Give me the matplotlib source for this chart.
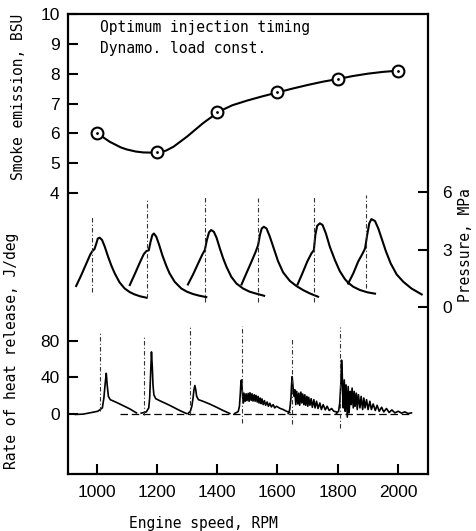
import numpy as np
import matplotlib
matplotlib.use("Agg")
import matplotlib.pyplot as plt

# smoke emission vs engine speed
speed = [1000, 1200, 1400, 1600, 1800, 2000]
smoke = [6.02, 5.36, 6.73, 7.37, 7.82, 8.10]
smoke_curve_x = [1000, 1043, 1080, 1100, 1130, 1155, 1200, 1230, 1255, 1300, 1353,
                 1406, 1450, 1500, 1550, 1600, 1650, 1700, 1750, 1800, 1850, 1900, 1950, 2000]
smoke_curve_y = [6.02, 5.72, 5.53, 5.46, 5.39, 5.36, 5.35, 5.42, 5.55, 5.89, 6.34,
                 6.73, 6.94, 7.10, 7.24, 7.37, 7.50, 7.62, 7.73, 7.82, 7.92, 8.00, 8.06, 8.10]

# cylinder pressure traces (MPa), placed along the speed axis
pressure_x = [
    [932, 949, 966, 979, 986, 993, 999, 1004, 1010, 1018, 1027, 1038, 1049, 1060, 1076, 1093, 1110, 1126, 1145, 1165],
    [1110, 1126, 1143, 1156, 1165, 1173, 1179, 1185, 1190, 1198, 1207, 1218, 1231, 1242, 1259, 1281, 1300, 1320, 1342, 1364],
    [1303, 1320, 1337, 1351, 1359, 1366, 1373, 1380, 1389, 1398, 1409, 1420, 1431, 1447, 1464, 1486, 1508, 1530, 1556],
    [1481, 1497, 1514, 1528, 1536, 1542, 1548, 1555, 1564, 1575, 1588, 1602, 1619, 1641, 1663, 1685, 1708, 1735],
    [1667, 1683, 1699, 1713, 1721, 1726, 1732, 1741, 1750, 1761, 1774, 1791, 1807, 1824, 1835, 1852, 1874, 1899, 1924],
    [1835, 1852, 1868, 1883, 1891, 1898, 1905, 1912, 1924, 1935, 1946, 1960, 1976, 1996, 2018, 2045, 2079],
]
pressure_y = [
    [1.10, 1.67, 2.28, 2.75, 2.92, 3.03, 3.32, 3.58, 3.62, 3.50, 3.15, 2.63, 2.16, 1.76, 1.29, 0.97, 0.78, 0.66, 0.56, 0.49],
    [1.15, 1.70, 2.31, 2.75, 2.92, 2.96, 3.41, 3.76, 3.84, 3.67, 3.27, 2.71, 2.16, 1.76, 1.32, 0.97, 0.80, 0.68, 0.59, 0.52],
    [1.18, 1.70, 2.28, 2.75, 2.97, 3.50, 3.90, 4.02, 3.93, 3.62, 3.06, 2.54, 2.10, 1.58, 1.23, 0.97, 0.80, 0.70, 0.59],
    [1.18, 1.76, 2.37, 2.89, 3.23, 3.76, 4.10, 4.19, 4.10, 3.67, 3.06, 2.40, 1.81, 1.37, 1.10, 0.89, 0.71, 0.54],
    [1.18, 1.76, 2.37, 2.80, 2.97, 3.76, 4.24, 4.37, 4.28, 3.84, 3.15, 2.45, 1.88, 1.46, 1.27, 1.06, 0.89, 0.77, 0.70],
    [1.23, 1.76, 2.37, 2.80, 3.06, 3.76, 4.37, 4.59, 4.49, 4.10, 3.58, 2.92, 2.28, 1.70, 1.32, 0.97, 0.66],
]
tdc_p_x = [985, 1167, 1359, 1536, 1721, 1894]
tdc_p_top = [4.71, 5.67, 5.76, 5.67, 5.76, 5.84]
tdc_p_bot = [0.80, 0.45, 0.28, 0.28, 0.28, 0.97]

# rate of heat release traces (J/deg)
heat_x = [
    [930, 955, 977, 1004, 1019, 1024, 1029, 1032, 1035, 1039, 1045, 1065, 1088, 1110, 1132],
    [1148, 1165, 1173, 1176, 1179, 1182, 1185, 1187, 1190, 1196, 1209, 1226, 1242, 1259, 1276, 1298],
    [1303, 1311, 1316, 1320, 1323, 1326, 1329, 1332, 1338, 1353, 1375, 1398, 1420, 1442],
    [1458, 1470, 1474, 1477, 1479, 1481, 1483, 1485, 1487, 1489, 1493, 1496, 1499, 1503, 1506, 1509, 1513,
     1516, 1519, 1523, 1526, 1529, 1533, 1536, 1539, 1543, 1546, 1549, 1553, 1557, 1561, 1566, 1570, 1575,
     1580, 1586, 1591, 1597, 1608, 1619, 1630, 1641],
    [1636, 1641, 1645, 1647, 1649, 1651, 1653, 1656, 1658, 1661, 1664, 1668, 1671, 1674, 1678, 1681, 1684,
     1688, 1691, 1694, 1698, 1701, 1704, 1708, 1712, 1716, 1721, 1725, 1730, 1735, 1741, 1746, 1752, 1759,
     1765, 1772, 1780, 1787, 1796],
    [1796, 1803, 1807, 1811, 1813, 1815, 1817, 1819, 1822, 1825, 1828, 1832, 1835, 1838, 1842, 1845, 1848,
     1852, 1855, 1858, 1862, 1865, 1869, 1874, 1878, 1883, 1887, 1891, 1896, 1901, 1907, 1912, 1918, 1925,
     1931, 1938, 1946, 1953, 1962, 1971, 1980, 1990, 2001, 2012, 2023, 2034, 2045],
]
heat_y = [
    [-1.0, -0.7, 0.7, 2.5, 6.2, 17.1, 35.3, 44.4, 31.6, 18.9, 15.3, 12.4, 8.7, 5.1, 0.7],
    [0.4, 1.8, 6.2, 17.1, 42.5, 68.0, 49.8, 31.6, 20.7, 16.4, 14.2, 11.6, 9.1, 6.2, 3.3, 0.0],
    [0.0, 2.5, 8.0, 17.1, 26.2, 30.9, 26.2, 18.9, 15.3, 13.5, 10.5, 6.9, 3.3, 0.0],
    [0.0, 2.2, 8.0, 22.5, 35.3, 37.1, 28.0, 17.1, 11.6, 22.5, 13.5, 21.8, 14.2, 22.2, 13.5, 22.9, 14.5,
     21.8, 13.8, 20.7, 13.5, 20.0, 12.7, 18.9, 11.6, 17.1, 10.9, 16.0, 9.8, 14.2, 9.1, 12.7, 8.0, 11.3,
     7.3, 9.8, 6.2, 8.0, 5.8, 4.4, 2.5, 1.1],
    [0.0, 4.4, 17.1, 31.6, 40.7, 33.5, 24.4, 18.9, 26.2, 9.8, 24.4, 10.5, 22.5, 9.1, 23.6, 11.6, 21.5,
     9.8, 20.7, 9.1, 18.9, 8.0, 17.8, 9.1, 16.4, 6.9, 15.3, 6.2, 13.5, 5.5, 11.6, 4.4, 9.8, 4.0,
     8.0, 3.3, 5.5, 2.5, 1.8],
    [0.0, 2.5, 11.6, 35.3, 58.9, 46.2, 20.7, 6.2, 37.1, 2.5, 31.6, -4.0, 29.8, 0.7, 24.4, 9.8, 28.0,
     6.2, 24.4, 8.0, 22.5, 4.4, 20.7, 6.2, 18.9, 4.4, 17.1, 6.2, 15.3, 4.4, 13.5, 4.4, 10.5, 3.3,
     9.1, 2.5, 6.9, 1.8, 5.5, 1.1, 4.0, 0.7, 2.5, 0.4, 1.8, 0.0, 0.7],
]
tdc_h_x = [1010, 1156, 1311, 1481, 1647, 1809]
tdc_h_top = [91.6, 84.4, 95.3, 96.4, 82.5, 95.3]
tdc_h_bot = [2.5, -1.1, -1.1, -10.2, -12.0, -15.6]

speed_ticks = [1000, 1200, 1400, 1600, 1800, 2000]
smoke_ticks = [4, 5, 6, 7, 8, 9, 10]
pressure_ticks = [0, 3, 6]
heat_ticks = [0, 40, 80]

mono = "DejaVu Sans Mono"
num_font = "Liberation Sans"

fig = plt.figure(figsize=(4.76, 5.31), dpi=100)
ax = fig.add_axes([0.1429, 0.1073, 0.7563, 0.8663])
ax_p = ax.twinx()
ax_h = ax.twinx()

# smoke
ax.plot(smoke_curve_x, smoke_curve_y, color="black", lw=1.5)
ax.plot(speed, smoke, "o", ms=8.5, mfc="white", mec="black", mew=1.5)
ax.plot(speed, smoke, ".", ms=2, color="black")
ax.set_xlim(905, 2100)
ax.set_ylim(-5.42, 10)
ax.set_xticks(speed_ticks)
ax.set_yticks(smoke_ticks)

# pressure
for xs, ys in zip(pressure_x, pressure_y):
    ax_p.plot(xs, ys, color="black", lw=1.5)
ax_p.vlines(tdc_p_x, tdc_p_bot, tdc_p_top, colors="#333333", lw=0.8, linestyles=(0, (4, 2, 1, 2)))
ax_p.set_ylim(-8.71, 15.29)
ax_p.set_yticks(pressure_ticks)

# heat release
for xs, ys in zip(heat_x, heat_y):
    ax_h.plot(xs, ys, color="black", lw=1.2)
ax_h.hlines(-0.6, 1076, 2045, colors="black", lw=0.9, linestyles=(0, (6, 3)))
ax_h.vlines(tdc_h_x, tdc_h_bot, tdc_h_top, colors="#333333", lw=0.8, linestyles=(0, (4, 2, 1, 2)))
ax_h.set_ylim(-66.8, 441)
ax_h.set_yticks(heat_ticks)
ax_h.yaxis.tick_left()

for a in (ax, ax_p, ax_h):
    a.tick_params(direction="in", length=7, width=1.5)
    for lab in a.get_xticklabels() + a.get_yticklabels():
        lab.set_fontfamily(num_font)
        lab.set_fontsize(12.5)
for s in ax.spines.values():
    s.set_linewidth(1.6)
for a in (ax_p, ax_h):
    for s in a.spines.values():
        s.set_visible(False)
ax.tick_params(axis="x", pad=8)
ax.tick_params(axis="y", pad=6)
ax_h.tick_params(axis="y", pad=6)
ax_p.tick_params(axis="y", pad=10)

ax.text(1010, 9.54, "Optimum injection timing", family=mono, fontsize=10.5, va="center")
ax.text(1010, 8.83, "Dynamo. load const.", family=mono, fontsize=10.5, va="center")

fig.text(0.038, 0.817, "Smoke emission, BSU", family=mono, fontsize=10.5,
         rotation=90, ha="center", va="center")
fig.text(0.025, 0.339, "Rate of heat release, J/deg", family=mono, fontsize=10.5,
         rotation=90, ha="center", va="center")
fig.text(0.977, 0.539, "Pressure, MPa", family=mono, fontsize=10.5,
         rotation=90, ha="center", va="center")
fig.text(0.427, 0.015, "Engine speed, RPM", family=mono, fontsize=10.5,
         ha="center", va="center")

fig.savefig("out.png", dpi=100)
